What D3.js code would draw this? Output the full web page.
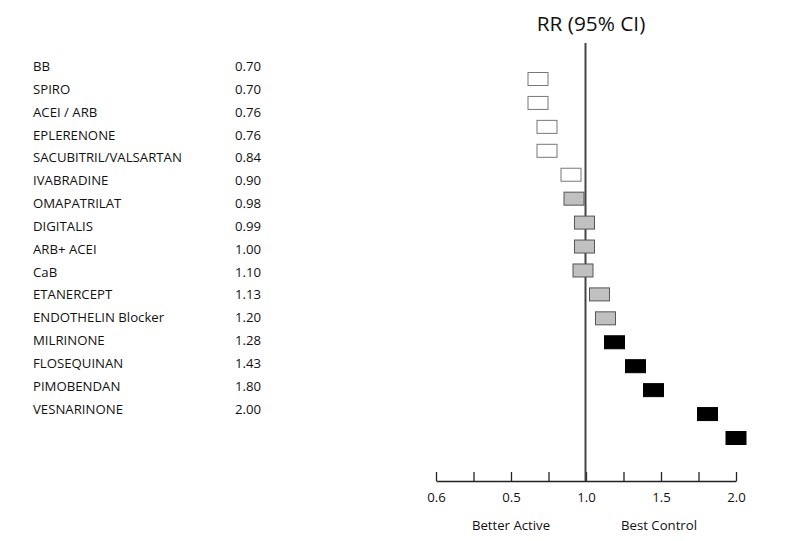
<!DOCTYPE html>
<html>
<head>
<meta charset="utf-8">
<script src="https://cdn.jsdelivr.net/npm/d3@7"></script>
<style>
  html, body { margin: 0; padding: 0; background: #fff; }
  svg { display: block; font-family: "Open Sans", "Noto Sans", sans-serif; }
</style>
</head>
<body>
<div id="viz"></div>
<script>
// Forest plot — RR (95% CI)

const DRUGS = [
  "BB", "SPIRO", "ACEI / ARB", "EPLERENONE", "SACUBITRIL/VALSARTAN",
  "IVABRADINE", "OMAPATRILAT", "DIGITALIS", "ARB+ ACEI", "CaB",
  "ETANERCEPT", "ENDOTHELIN Blocker", "MILRINONE", "FLOSEQUINAN",
  "PIMOBENDAN", "VESNARINONE"
];

// printed RR values
const RR_TEXT = [
  "0.70", "0.70", "0.76", "0.76", "0.84", "0.90", "0.98", "0.99",
  "1.00", "1.10", "1.13", "1.20", "1.28", "1.43", "1.80", "2.00"
];

// where the boxes sit on the axis
const BOX_RR = [
  0.68, 0.68, 0.74, 0.74, 0.90, 0.92, 0.99, 0.99,
  0.98, 1.09, 1.13, 1.19, 1.33, 1.45, 1.81, 2.00
];

// box shading groups
const BOX_GROUP = [
  "open", "open", "open", "open", "open",
  "grey", "grey", "grey", "grey", "grey", "grey",
  "solid", "solid", "solid", "solid", "solid"
];

const TICK_VALUES = [0, 0.25, 0.5, 0.75, 1, 1.25, 1.5, 1.75, 2];
const TICK_LABELS = { 0: "0.6", 0.5: "0.5", 1: "1.0", 1.5: "1.5", 2: "2.0" };

const FILL = { open: "#ffffff", grey: "#c0c0c0", solid: "#000000" };
const STROKE = { open: "#777777", grey: "#555555", solid: "#000000" };

const width = 800, height = 541;
const fs = 13.2;

const svg = d3.select("#viz").append("svg")
  .attr("width", width)
  .attr("height", height);

const x = d3.scaleLinear().domain([0, 2]).range([436, 736]);
const rowLabel = d3.scalePoint().domain(d3.range(DRUGS.length)).range([66.5, 409]);
const rowBox = d3.scalePoint().domain(d3.range(DRUGS.length)).range([79, 438]);

// title
svg.append("text")
  .attr("x", 591)
  .attr("y", 31)
  .attr("text-anchor", "middle")
  .attr("font-size", 20.8)
  .attr("fill", "#111")
  .text("RR (95% CI)");

// left table
const rows = svg.append("g");
rows.selectAll("text.name")
  .data(DRUGS)
  .enter().append("text")
  .attr("class", "name")
  .attr("x", 33)
  .attr("y", (d, i) => rowLabel(i))
  .attr("dy", "0.35em")
  .attr("font-size", fs)
  .attr("fill", "#111")
  .text(d => d);

rows.selectAll("text.val")
  .data(RR_TEXT)
  .enter().append("text")
  .attr("class", "val")
  .attr("x", 261)
  .attr("y", (d, i) => rowLabel(i))
  .attr("dy", "0.35em")
  .attr("text-anchor", "end")
  .attr("font-size", fs)
  .attr("fill", "#111")
  .text(d => d);

// axis
const axisY = 481;
const axis = d3.axisBottom(x)
  .tickValues(TICK_VALUES)
  .tickSizeInner(-9)
  .tickSizeOuter(0)
  .tickPadding(12)
  .tickFormat(d => TICK_LABELS[d] ?? "");

const ax = svg.append("g")
  .attr("transform", `translate(0,${axisY})`)
  .call(axis);
ax.select(".domain").attr("stroke", "#222").attr("stroke-width", 1.5);
ax.selectAll(".tick line").attr("stroke", "#222").attr("stroke-width", 1.3);
ax.selectAll(".tick text")
  .attr("font-size", fs)
  .attr("font-family", "\"Open Sans\", \"Noto Sans\", sans-serif")
  .attr("fill", "#111");

// line of no effect
svg.append("line")
  .attr("x1", x(1) - 0.5).attr("x2", x(1) - 0.5)
  .attr("y1", 43).attr("y2", axisY)
  .attr("stroke", "#444")
  .attr("stroke-width", 2);

// boxes
const bw = 20, bh = 13;
svg.append("g").selectAll("rect")
  .data(BOX_RR)
  .enter().append("rect")
  .attr("x", d => x(d) - bw / 2)
  .attr("y", (d, i) => rowBox(i) - bh / 2)
  .attr("width", bw)
  .attr("height", bh)
  .attr("fill", (d, i) => FILL[BOX_GROUP[i]])
  .attr("stroke", (d, i) => STROKE[BOX_GROUP[i]])
  .attr("stroke-width", 1);

// direction labels
svg.append("text")
  .attr("x", x(0.5))
  .attr("y", 530)
  .attr("text-anchor", "middle")
  .attr("font-size", fs)
  .attr("fill", "#111")
  .text("Better Active");

svg.append("text")
  .attr("x", x(1.5) - 2)
  .attr("y", 530)
  .attr("text-anchor", "middle")
  .attr("font-size", fs)
  .attr("fill", "#111")
  .text("Best Control");
</script>
</body>
</html>
